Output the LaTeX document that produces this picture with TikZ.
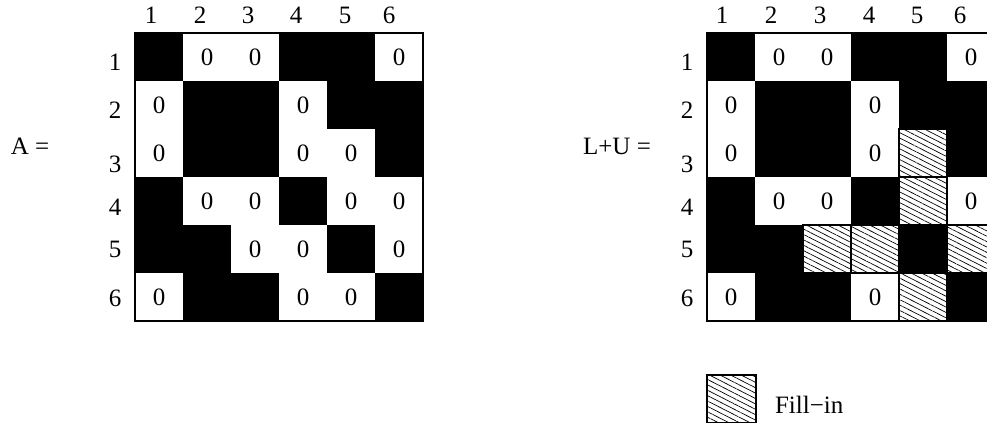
\documentclass[tikz,border=0pt]{standalone}
\usepackage{fontspec}
\setmainfont{Liberation Serif}
\usetikzlibrary{patterns.meta}

\begin{document}
\begin{tikzpicture}[x=0.5pt, y=-0.5pt, font=\fontsize{12.5}{15}\selectfont,
  fillin/.style={draw, line width=0.6pt, pattern={Lines[angle=-27, distance=2.4pt, line width=0.35pt]}}]
\useasboundingbox (0,0) rectangle (987,423);
% matrix A
\node (labA) at (30,146) {A =};
\foreach \c/\x in {1/151,2/200,3/248,4/296,5/345,6/389}
    \node (colA\c) at (\x,15) {\c};
\foreach \r/\y in {1/62,2/110,3/164,4/207,5/249,6/298}
    \node (rowA\r) at (115,\y) {\r};
\draw[line width=0.6pt] (135,33) rectangle (423,321);
\foreach \r/\c in {1/1,1/4,1/5,2/2,2/3,2/5,2/6,3/2,3/3,3/6,4/1,4/4,5/1,5/2,5/5,6/2,6/3,6/6}
    \fill (87+48*\c,-15+48*\r) rectangle ++(48,48);
\foreach \r/\c in {1/2,1/3,1/6,2/1,2/4,3/1,3/4,3/5,4/2,4/3,4/5,4/6,5/3,5/4,5/6,6/1,6/4,6/5}
    \node (zA\r\c) at (111+48*\c,9+48*\r) {0};
% matrix L+U
\node (labLU) at (617,146) {L+U =};
\foreach \c/\x in {1/722,2/771,3/820,4/869,5/917,6/960}
    \node (colLU\c) at (\x,15) {\c};
\foreach \r/\y in {1/62,2/110,3/164,4/207,5/249,6/298}
    \node (rowLU\r) at (687,\y) {\r};
\draw[line width=0.6pt] (707,33) rectangle (995,321);
\foreach \r/\c in {1/1,1/4,1/5,2/2,2/3,2/5,2/6,3/2,3/3,3/6,4/1,4/4,5/1,5/2,5/5,6/2,6/3,6/6}
    \fill (659+48*\c,-15+48*\r) rectangle ++(48,48);
\foreach \r/\c in {3/5,4/5,5/3,5/4,5/6,6/5}
    \draw[fillin] (659+48*\c,-15+48*\r) rectangle ++(48,48);
\foreach \r/\c in {1/2,1/3,1/6,2/1,2/4,3/1,3/4,4/2,4/3,4/6,6/1,6/4}
    \node (zLU\r\c) at (683+48*\c,9+48*\r) {0};
% legend
\draw[fillin] (707,375) rectangle (756,423);
\node[anchor=west] (legend) at (768,405) {Fill−in};
\end{tikzpicture}
\end{document}
